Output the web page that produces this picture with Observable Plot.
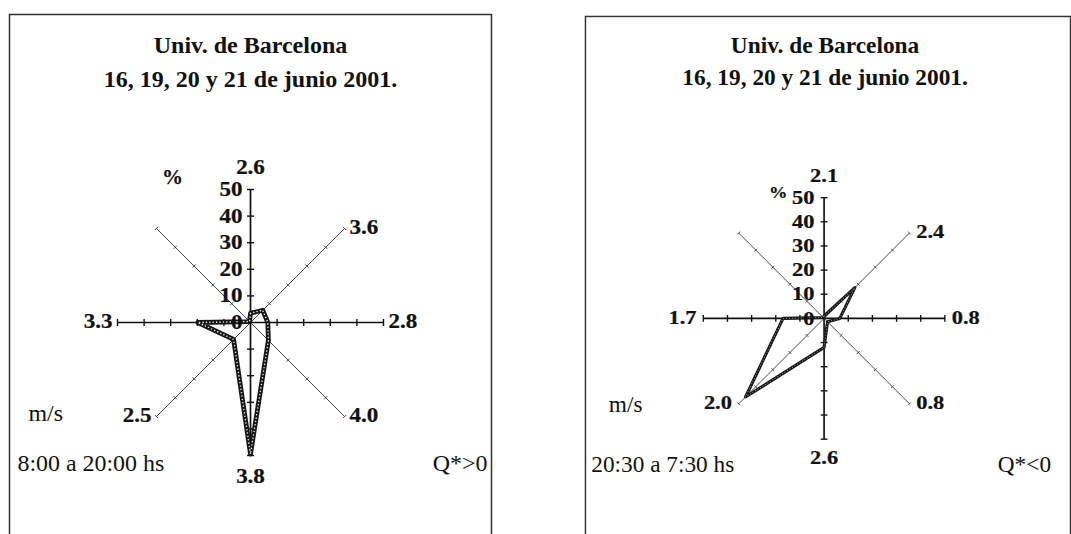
<!DOCTYPE html>
<html>
<head>
<meta charset="utf-8">
<script src="https://cdn.jsdelivr.net/npm/d3@7"></script>
<script src="https://cdn.jsdelivr.net/npm/@observablehq/plot@0.6"></script>
<style>
  html, body { margin: 0; padding: 0; background: #fff; overflow: hidden; }
  #page { position: relative; width: 1071px; height: 534px; overflow: hidden; background: #fff; }
  .panel { position: absolute; }
</style>
</head>
<body>
<div id="page"></div>
<script>
// Wind directions (compass bearings, clockwise from north)
const directions = ["N", "NE", "E", "SE", "S", "SW", "W", "NW"];
const bearings = [0, 45, 90, 135, 180, 225, 270, 315];
const percentTicks = [0, 10, 20, 30, 40, 50];

// Daytime (Q* > 0): frequency of each direction (%) and mean speed (m/s)
const dayFrequency = [3.5, 6.5, 6.5, 9.5, 49.5, 9, 19.8, 0.5];
const daySpeed = ["2.6", "3.6", "2.8", "4.0", "3.8", "2.5", "3.3", null];

// Night-time (Q* < 0)
const nightFrequency = [1, 18, 6.5, 2, 12, 46, 17, 0.5];
const nightSpeed = ["2.1", "2.4", "0.8", "0.8", "2.6", "2.0", "1.7", null];

const titleLine1 = "Univ. de Barcelona";
const titleLine2 = "16, 19, 20 y 21 de junio 2001.";

// horizontal stretch of the typeface, keyed by font size
const stretchBySize = {18: 1.05, 21: 1.0, 20: 1.15, 23: 1.04, 24: 1.0};

const rad = b => b * Math.PI / 180;

function windRose(o) {
  const unit = 50 / o.R; // data units per pixel
  const spokes = bearings.map((b, i) => ({b, dir: directions[i], main: b % 90 === 0}));
  const ticks = spokes.flatMap(s => percentTicks.filter(v => v > 0).map(v => ({...s, v})));
  const points = bearings.map((b, i) => ({b, v: o.freq[i]}));
  const labels = bearings.map((b, i) => ({b, text: o.speed[i]})).filter(d => d.text);
  const half = d => (d.main ? o.mainTick : o.diagTick) * unit;
  const endX = d => 50 * Math.sin(rad(d.b));
  const endY = d => 50 * Math.cos(rad(d.b));
  const px = d => d.v * Math.sin(rad(d.b));
  const py = d => d.v * Math.cos(rad(d.b));
  const side = b => b === 0 ? "top" : b === 180 ? "bottom" : b < 180 ? "right" : "left";
  const labelFont = {fontSize: 20, fontWeight: "bold", fill: "#111", stroke: "#111", strokeWidth: 0.25};
  const plainFont = {fontSize: 23, fill: "#111", frameAnchor: "top-left", lineAnchor: "middle"};
  const titleFont = {fontSize: 24, fontWeight: "bold", fill: "#111", frameAnchor: "top-left",
    lineAnchor: "middle", textAnchor: "middle"};

  return Plot.plot({
    width: o.width,
    height: o.height,
    margin: 0,
    x: {domain: [-50, 50], range: [o.cx - o.R, o.cx + o.R], axis: null},
    y: {domain: [-50, 50], range: [o.cy + o.R, o.cy - o.R], axis: null},
    style: {fontFamily: "'Liberation Serif', 'Times New Roman', serif", background: "#fff", color: "#111", overflow: "visible"},
    marks: [
      Plot.frame({stroke: "#333", strokeWidth: 1.5, inset: 1}),
      // spokes
      Plot.link(spokes, {x1: () => 0, y1: () => 0, x2: endX, y2: endY,
        stroke: d => d.main ? "#111" : "#444", strokeWidth: d => d.main ? 1.7 : 1}),
      // tick marks every 10 %
      Plot.link(ticks, {
        x1: d => px(d) - half(d) * Math.cos(rad(d.b)),
        y1: d => py(d) + half(d) * Math.sin(rad(d.b)),
        x2: d => px(d) + half(d) * Math.cos(rad(d.b)),
        y2: d => py(d) - half(d) * Math.sin(rad(d.b)),
        stroke: d => d.main ? "#111" : "#444", strokeWidth: d => d.main ? 1.4 : 1
      }),
      // frequency polygon drawn as a chain of small markers
      Plot.line(points, {x: px, y: py, curve: "linear-closed", stroke: "#161616",
        strokeWidth: o.chainWidth, strokeLinejoin: "round"}),
      Plot.line(points, {x: px, y: py, curve: "linear-closed", stroke: "#fff",
        strokeWidth: o.dotWidth, strokeDasharray: o.dotDash, strokeLinecap: "round", strokeOpacity: 0.9}),
      // percentage scale on the north spoke
      Plot.text(percentTicks, {x: () => 0, y: d => d, text: d => String(d), textAnchor: "end",
        dx: o.tickDx, ...labelFont}),
      Plot.text(["%"], {x: () => 0, y: () => 50, text: d => d, dx: o.pctDx, dy: o.pctDy,
        ...labelFont, fontSize: o.pctSize}),
      // mean wind speed at the end of each spoke
      Plot.text(labels, {filter: d => side(d.b) === "top", x: endX, y: endY, text: "text", dy: o.topDy, ...labelFont}),
      Plot.text(labels, {filter: d => side(d.b) === "bottom", x: endX, y: endY, text: "text", dy: o.bottomDy, ...labelFont}),
      Plot.text(labels, {filter: d => side(d.b) === "right", x: endX, y: endY, text: "text", textAnchor: "start",
        dx: o.sideDx, dy: -1, ...labelFont}),
      Plot.text(labels, {filter: d => side(d.b) === "left", x: endX, y: endY, text: "text", textAnchor: "end",
        dx: -o.sideDx, dy: -1, ...labelFont}),
      // titles
      Plot.text([titleLine1], {text: d => d, dx: o.titleX, dy: o.title1Y, ...titleFont}),
      Plot.text([titleLine2], {text: d => d, dx: o.titleX, dy: o.title2Y, ...titleFont}),
      // units, period and sign of net radiation
      Plot.text(["m/s"], {text: d => d, textAnchor: "start", dx: o.unitX, dy: o.unitY, ...plainFont}),
      Plot.text([o.hours], {text: d => d, textAnchor: "start", dx: o.hoursX, dy: o.hoursY, ...plainFont}),
      Plot.text([o.sign], {text: d => d, textAnchor: "end", dx: o.width - o.signRight, dy: o.hoursY, ...plainFont})
    ]
  });
}

// widen glyphs around each text's anchor point
function stretchText(svg) {
  svg.querySelectorAll("text").forEach(t => {
    const size = Math.round(parseFloat(getComputedStyle(t).fontSize));
    const k = stretchBySize[size] || 1;
    if (k !== 1) t.setAttribute("transform", (t.getAttribute("transform") || "") + ` scale(${k},1)`);
  });
}

const page = document.getElementById("page");

const panels = [
  {left: 8, top: 13, width: 484, height: 545, cx: 242, cy: 309, R: 133,
   freq: dayFrequency, speed: daySpeed, hours: "8:00 a 20:00 hs", sign: "Q*>0",
   mainTick: 3.5, diagTick: 2.2, chainWidth: 4.8, dotWidth: 1.6, dotDash: "0 3.4",
   pctSize: 21, tickDx: -8, pctDx: -78, pctDy: -12, topDy: -22, bottomDy: 21, sideDx: 5,
   titleX: 242, title1Y: 32, title2Y: 66,
   unitX: 20, unitY: 400, hoursX: 9, hoursY: 450, signRight: 5},
  {left: 584, top: 15, width: 500, height: 545, cx: 246, cy: 311, R: 124,
   freq: nightFrequency, speed: nightSpeed, hours: "20:30 a 7:30 hs", sign: "Q*<0",
   mainTick: 3.5, diagTick: 2, chainWidth: 3.2, dotWidth: 0.8, dotDash: "0 3",
   pctSize: 18, tickDx: -10, pctDx: -47, pctDy: -5, topDy: -22, bottomDy: 19, sideDx: 7,
   titleX: 247, title1Y: 31, title2Y: 64,
   unitX: 25, unitY: 400, hoursX: 7, hoursY: 461, signRight: 21}
];

for (const p of panels) {
  const div = document.createElement("div");
  div.className = "panel";
  div.style.left = p.left + "px";
  div.style.top = p.top + "px";
  const chart = windRose(p);
  div.appendChild(chart);
  page.appendChild(div);
  stretchText(chart);
}
</script>
</body>
</html>
